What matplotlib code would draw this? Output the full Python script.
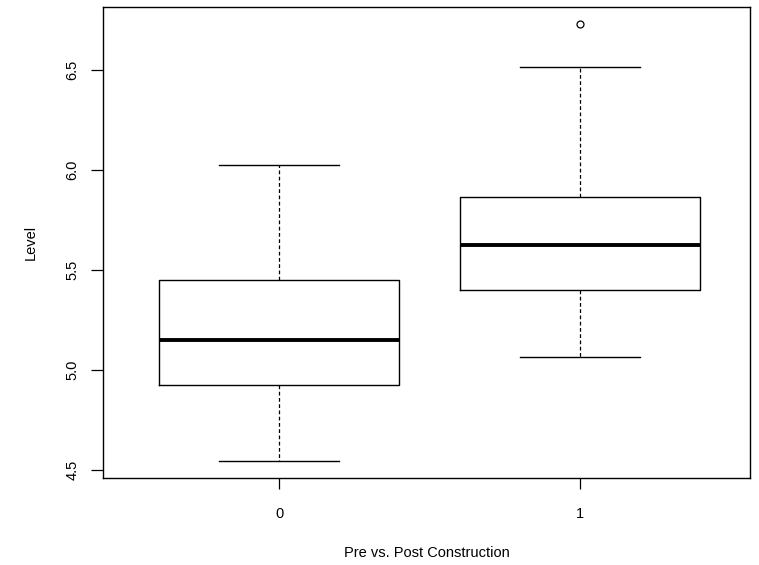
import matplotlib as mpl
mpl.use('Agg')
import matplotlib.pyplot as plt

#
#--- box statistics
#
groups   = ['0', '1']
whislo   = [4.545, 5.065]
q1       = [4.925, 5.400]
med      = [5.150, 5.625]
q3       = [5.450, 5.865]
whishi   = [6.025, 6.515]
fliers   = [[], [6.730]]

#------------------------------------------------------------------------

def plot_box():
    """
    draw R style box plot of level for pre/post construction
    output: ./out.png
    """
    plt.close('all')
    mpl.rcParams['font.family'] = ['Liberation Sans', 'DejaVu Sans']
    mpl.rcParams['font.size'] = 10.5

    fig = plt.figure(figsize=(7.59, 5.65), dpi=100)
    ax  = fig.add_axes([0.1357, 0.154, 0.8523, 0.8336])

    stats = []
    for i in range(0, len(groups)):
        stats.append({'label': groups[i], 'whislo': whislo[i], 'q1': q1[i],
                      'med': med[i], 'q3': q3[i], 'whishi': whishi[i],
                      'fliers': fliers[i]})

    ax.bxp(stats, positions=[1, 2], widths=0.8, showfliers=True,
           boxprops=dict(color='black', lw=1.0),
           medianprops=dict(color='black', lw=2.8, solid_capstyle='butt'),
           whiskerprops=dict(color='black', lw=0.9, linestyle=(0, (3, 2))),
           capprops=dict(color='black', lw=1.0),
           capwidths=0.4,
           flierprops=dict(marker='o', markersize=5, markerfacecolor='none',
                           markeredgecolor='black', markeredgewidth=0.9))
#
#--- axes setting
#
    ax.set_xlim(0.415, 2.565)
    ax.set_ylim(4.46, 6.815)
    ax.set_yticks([4.5, 5.0, 5.5, 6.0, 6.5])
    ax.set_yticklabels(['4.5', '5.0', '5.5', '6.0', '6.5'], rotation=90, va='center')
    ax.set_xticks([1, 2])
    ax.set_xticklabels(groups)
    ax.tick_params(axis='y', length=9, width=0.9, pad=8)
    ax.tick_params(axis='x', length=8, width=0.9, pad=13)
    for sp in ax.spines.values():
        sp.set_linewidth(1.0)

    ax.set_xlabel('Pre vs. Post Construction', labelpad=18)
    ax.set_ylabel('Level', labelpad=20)

    plt.savefig('out.png', format='png', dpi=100)
    plt.close('all')

if __name__ == '__main__':
    plot_box()
